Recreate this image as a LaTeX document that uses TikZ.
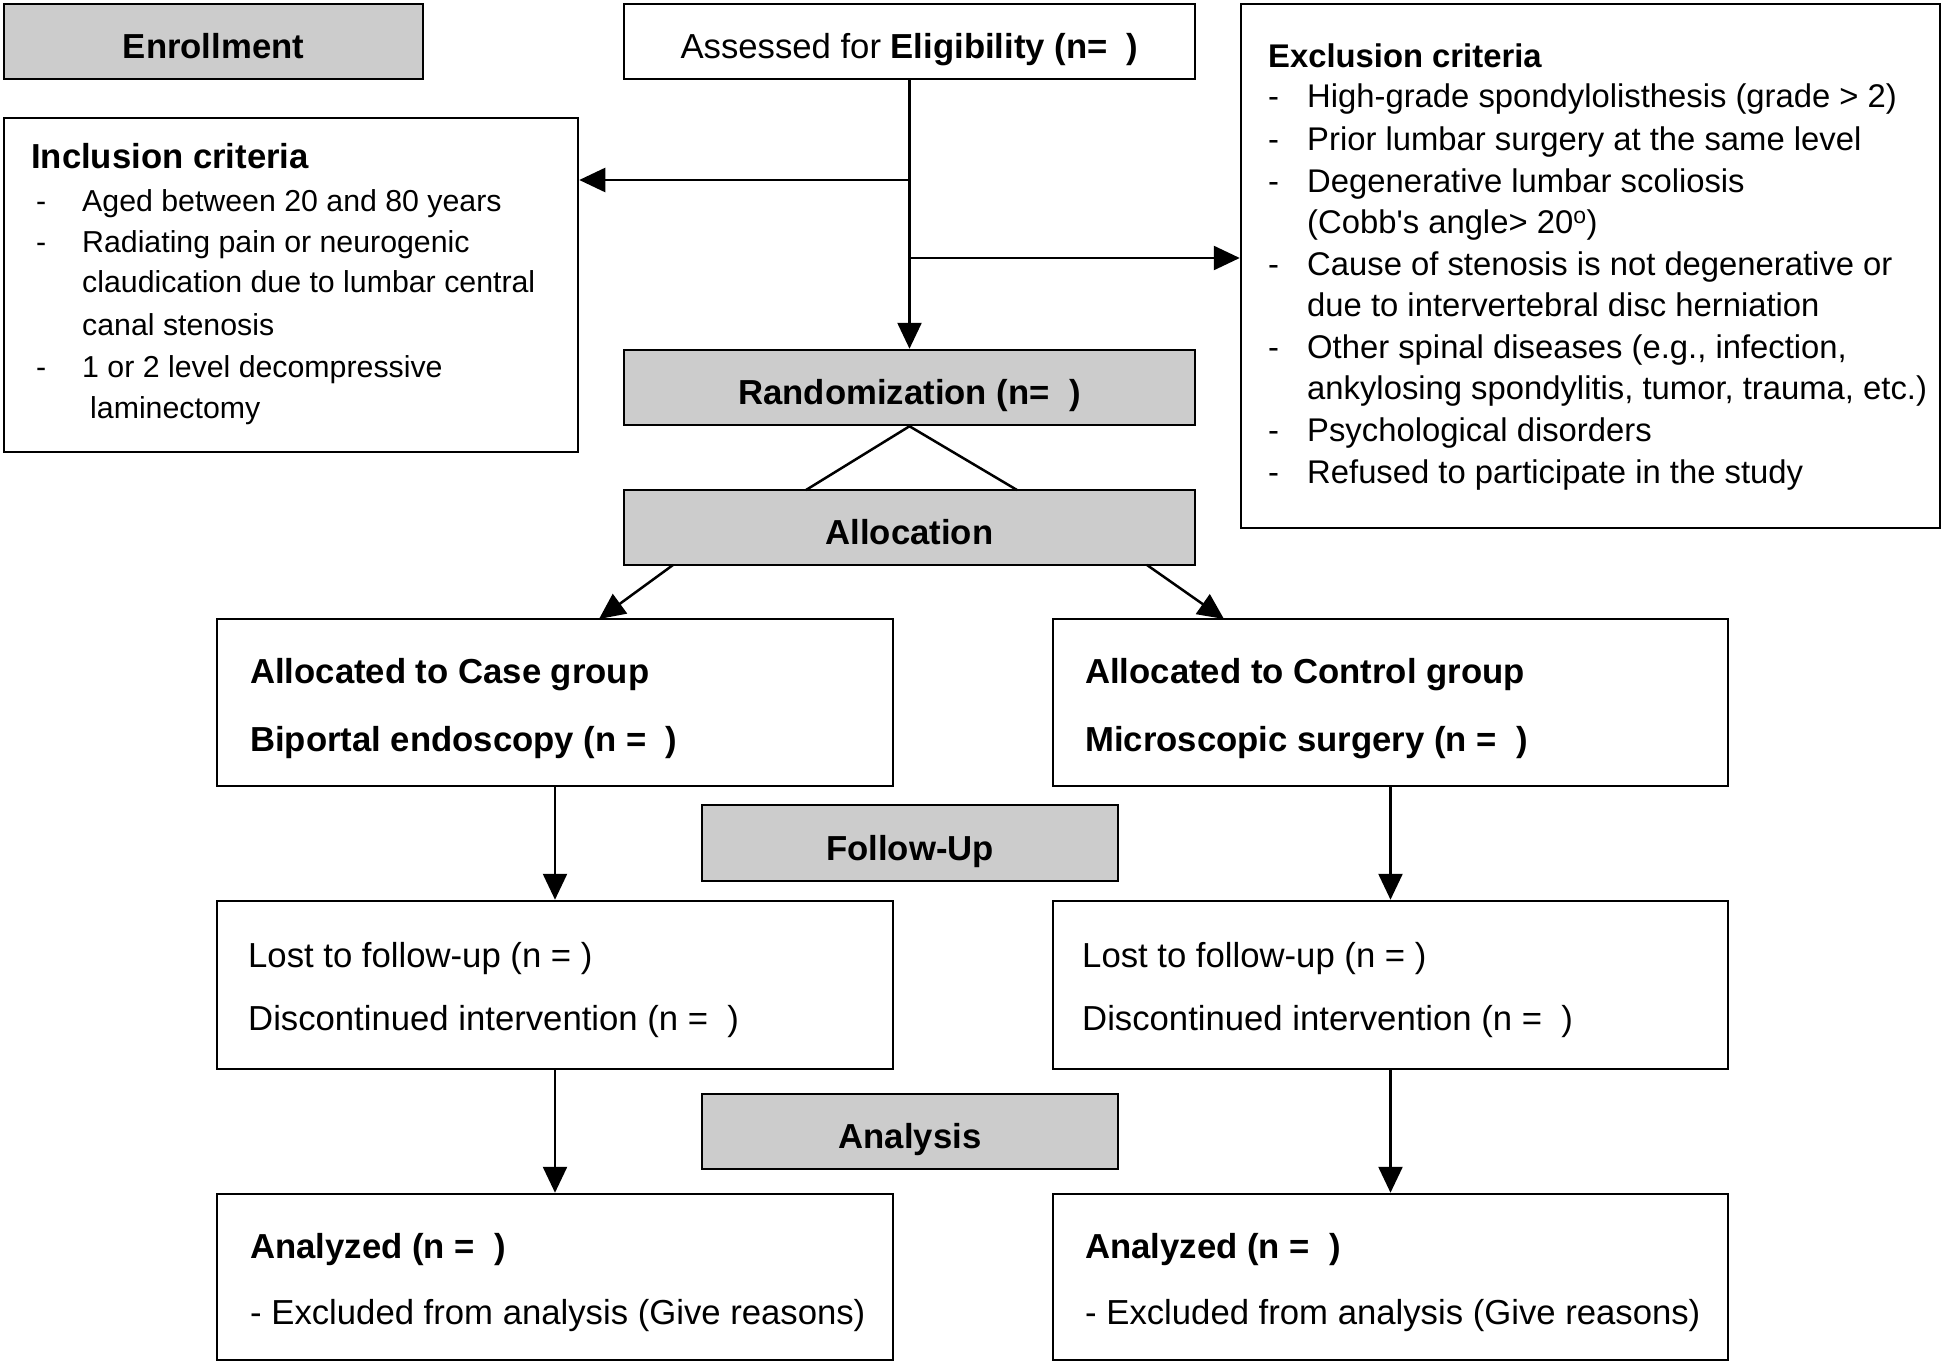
\documentclass[tikz,border=0pt]{standalone}
\usepackage{fontspec}
\setmainfont{Liberation Sans}
\newfontfamily\plainlatin{Liberation Sans}
\usetikzlibrary{arrows.meta,calc}
\definecolor{boxgray}{HTML}{CCCCCC}
\begin{document}
\begin{tikzpicture}[x=1pt,y=-1pt,
  box/.style={draw=black, line width=2.5pt, fill=white, inner sep=0pt},
  graybox/.style={box, fill=boxgray, font=\fontsize{34.7}{40}\selectfont\bfseries, text height=34pt, text depth=0pt},
  whitebox/.style={box, font=\fontsize{34.7}{40}\selectfont, text height=34pt, text depth=0pt},
  t34/.style={anchor=base west, inner sep=0pt, font=\fontsize{34.7}{40}\selectfont},
  t33/.style={anchor=base west, inner sep=0pt, font=\fontsize{32.8}{40}\selectfont},
  t30/.style={anchor=base west, inner sep=0pt, font=\fontsize{30.3}{36}\selectfont},
  conn/.style={draw=black, line width=2.5pt},
  arr/.style={conn, -{Triangle[length=26pt,width=24pt]}}]
\useasboundingbox (0,0) rectangle (1944,1365);

% boxes
\node[graybox, minimum width=419pt, minimum height=75pt] (enroll) at (213.5,41.5) {Enrollment};
\node[whitebox, minimum width=571pt, minimum height=75pt] (assess) at (909.5,41.5) {Assessed for \textbf{Eligibility (n=\ \ )}};
\node[box, minimum width=574pt, minimum height=334pt] (incl) at (291,285) {};
\node[box, minimum width=699pt, minimum height=524pt] (excl) at (1590.5,266) {};
\node[graybox, minimum width=571pt, minimum height=75pt] (rand) at (909.5,387.5) {Randomization (n=\ \ )};
\node[graybox, minimum width=571pt, minimum height=75pt] (alloc) at (909.5,527.5) {Allocation};
\node[box, minimum width=676pt, minimum height=167pt] (caseg) at (555,702.5) {};
\node[box, minimum width=675pt, minimum height=167pt] (ctrlg) at (1390.5,702.5) {};
\node[graybox, minimum width=416pt, minimum height=76pt] (fu) at (910,843) {Follow-Up};
\node[box, minimum width=676pt, minimum height=168pt] (lostl) at (555,985) {};
\node[box, minimum width=675pt, minimum height=168pt] (lostr) at (1390.5,985) {};
\node[graybox, minimum width=416pt, minimum height=75pt] (an) at (910,1131.5) {Analysis};
\node[box, minimum width=676pt, minimum height=166pt] (anal) at (555,1277) {};
\node[box, minimum width=675pt, minimum height=166pt] (anar) at (1390.5,1277) {};

% inclusion text
\node[t34] (inct) at (31,168) {\bfseries Inclusion criteria};
\node[t30] (incd1) at (36,211) {-};
\node[t30] (inc1) at (82,211) {Aged between 20 and 80 years};
\node[t30] (incd2) at (36,252) {-};
\node[t30] (inc2) at (82,252) {Radiating pain or neurogenic};
\node[t30] (inc3) at (82,292) {claudication due to lumbar central};
\node[t30] (inc4) at (82,335) {canal stenosis};
\node[t30] (incd3) at (36,377) {-};
\node[t30] (inc5) at (82,377) {1 or 2 level decompressive};
\node[t30] (inc6) at (90,418) {laminectomy};

% exclusion text
\node[t33] (exct) at (1268,67) {\bfseries Exclusion criteria};
\node[t33] (excd1) at (1268,107) {-};
\node[t33] (exc1) at (1307,107) {High-grade spondylolisthesis (grade > 2)};
\node[t33] (excd2) at (1268,150) {-};
\node[t33] (exc2) at (1307,150) {Prior lumbar surgery at the same level};
\node[t33] (excd3) at (1268,192) {-};
\node[t33] (exc3) at (1307,192) {Degenerative lumbar scoliosis};
\node[t33] (exc4) at (1307,233) {\plainlatin (Cobb's angle> 20\textsuperscript{o})};
\node[t33] (excd4) at (1268,275) {-};
\node[t33] (exc5) at (1307,275) {Cause of stenosis is not degenerative or};
\node[t33] (exc6) at (1307,316) {due to intervertebral disc herniation};
\node[t33] (excd5) at (1268,358) {-};
\node[t33] (exc7) at (1307,358) {Other spinal diseases (e.g., infection,};
\node[t33] (exc8) at (1307,399) {ankylosing spondylitis, tumor, trauma, etc.)};
\node[t33] (excd6) at (1268,441) {-};
\node[t33] (exc9) at (1307,441) {Psychological disorders};
\node[t33] (excd7) at (1268,483) {-};
\node[t33] (exc10) at (1307,483) {Refused to participate in the study};

% group boxes text
\node[t34] (cg1) at (250,683) {\bfseries Allocated to Case group};
\node[t34] (cg2) at (250,751) {\bfseries Biportal endoscopy (n =\ \ )};
\node[t34] (rg1) at (1085,683) {\bfseries Allocated to Control group};
\node[t34] (rg2) at (1085,751) {\bfseries Microscopic surgery (n =\ \ )};
\node[t34] (ll1) at (248,967) {Lost to follow-up (n = )};
\node[t34] (ll2) at (248,1030) {Discontinued intervention (n =\ \ )};
\node[t34] (lr1) at (1082,967) {Lost to follow-up (n = )};
\node[t34] (lr2) at (1082,1030) {Discontinued intervention (n =\ \ )};
\node[t34] (al1) at (250,1258) {\bfseries Analyzed (n =\ \ )};
\node[t34] (al2) at (250,1324) {- Excluded from analysis (Give reasons)};
\node[t34] (ar1) at (1085,1258) {\bfseries Analyzed (n =\ \ )};
\node[t34] (ar2) at (1085,1324) {- Excluded from analysis (Give reasons)};

% connectors
\coordinate (jl) at (909.5,180);
\coordinate (jr) at (909.5,258);
\draw[arr] (assess.south) -- (rand.north);
\draw[arr] (jl) -- (jl -| incl.east);
\draw[arr] (jr) -- (jr -| excl.west);
\coordinate (a1) at (806,490);
\coordinate (a2) at (1017,490);
\draw[conn] (a1) -- (rand.south) -- (a2);
\coordinate (s1) at (673,565);
\coordinate (t1) at (599,619);
\coordinate (s2) at (1147,565);
\coordinate (t2) at (1224,619);
\draw[arr] (s1) -- (t1);
\draw[arr] (s2) -- (t2);
\draw[arr] (caseg.south) -- (lostl.north);
\draw[arr] (ctrlg.south) -- (lostr.north);
\draw[arr] (lostl.south) -- (anal.north);
\draw[arr] (lostr.south) -- (anar.north);
\end{tikzpicture}
\end{document}
